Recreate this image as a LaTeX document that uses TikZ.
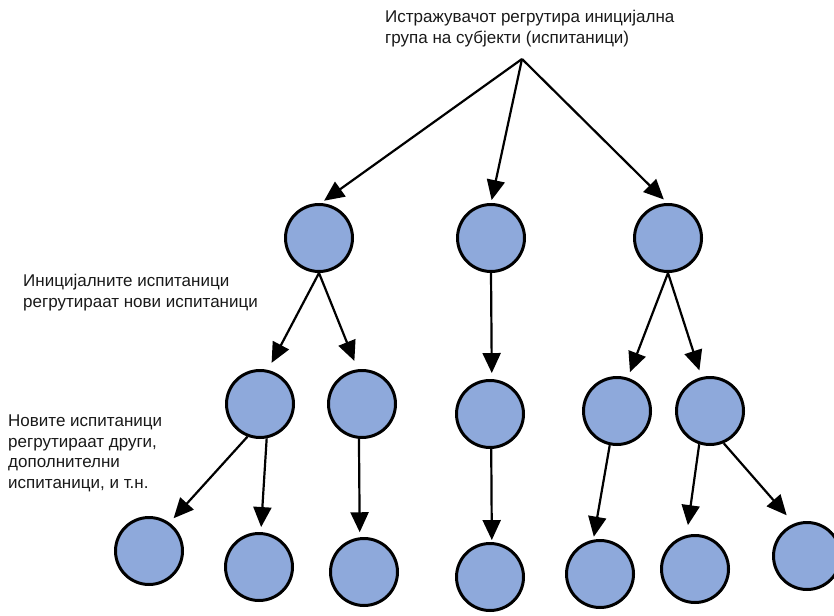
\documentclass[tikz,border=0pt]{standalone}
\usepackage{fontspec}
\setmainfont{Liberation Sans}
\usetikzlibrary{arrows.meta}
\definecolor{nodefill}{RGB}{142,169,219}
\definecolor{inktext}{RGB}{25,25,25}
\tikzset{
  person/.style={circle, draw=black, line width=3pt, fill=nodefill,
    minimum size=67pt, inner sep=0pt},
  link/.style={line width=2.2pt, -{Triangle[length=20pt, width=18pt]}},
  caption/.style={anchor=north west, inner sep=0pt, align=left, text=inktext,
    font=\fontsize{17pt}{20.5pt}\selectfont}
}
\begin{document}
\begin{tikzpicture}[x=1pt, y=-1pt]
\useasboundingbox (0,0) rectangle (834,615);

% captions
\node[caption] (lead) at (385,10) {Истражувачот регрутира иницијална\\група на субјекти (испитаници)};
\node[caption] (wave1) at (23,274) {Иницијалните испитаници\\регрутираат нови испитаници};
\node[caption] (wave2) at (8,415) {Новите испитаници\\регрутираат други,\\дополнителни\\испитаници, и т.н.};

% branching point under the researcher's caption
\coordinate (apex) at (522,59);

% first wave
\node[person] (A) at (319,238) {};
\node[person] (B) at (491,238) {};
\node[person] (C) at (668,238) {};

% second wave
\node[person] (D) at (260,404) {};
\node[person] (E) at (362,404) {};
\node[person] (F) at (490,414) {};
\node[person] (G) at (617,411) {};
\node[person] (H) at (710,411) {};

% third wave
\node[person] (I) at (149,551) {};
\node[person] (J) at (259,567) {};
\node[person] (K) at (364,572) {};
\node[person] (L) at (490,577) {};
\node[person] (M) at (600,574) {};
\node[person] (N) at (695,569) {};
\node[person] (O) at (807,556) {};

% recruitment links
\draw[link, shorten >=4pt] (apex) -- (A.87);
\draw[link, shorten >=3pt] (apex) -- (B.90);
\draw[link, shorten >=5pt] (apex) -- (C.91);

\draw[link, shorten >=8pt] (A.-90) -- (D.77);
\draw[link, shorten >=9pt] (A.-90) -- (E.97);
\draw[link, shorten >=6pt] (B.-90) -- (F.87);
\draw[link, shorten >=6pt] (C.-90) -- (G.72);
\draw[link, shorten >=7pt] (C.-90) -- (H.104);

\draw[link, shorten >=6pt] (D.-111) -- (I.54);
\draw[link, shorten >=5pt] (D.-79) -- (J.87);
\draw[link, shorten >=5pt] (E.-95) -- (K.97);
\draw[link, shorten >=2pt] (F.-88) -- (L.87);
\draw[link, shorten >=3pt] (G.-102) -- (M.101);
\draw[link, shorten >=10pt] (H.-108) -- (N.104);
\draw[link, shorten >=11pt] (H.-67) -- (O.112);
\end{tikzpicture}
\end{document}
